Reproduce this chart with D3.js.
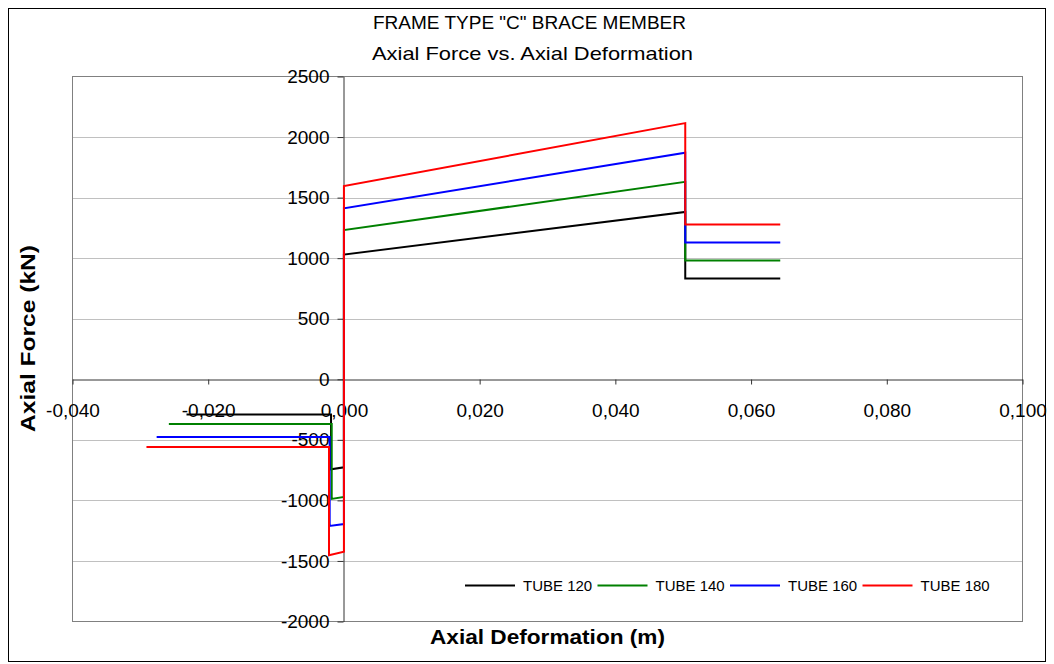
<html>
<head>
<meta charset="utf-8">
<script src="https://d3js.org/d3.v7.min.js"></script>
<title>Frame type C brace member</title>
<style>
  body { margin: 0; background: #fff; }
  text { font-family: "Liberation Sans", Arial, sans-serif; }
</style>
</head>
<body>
<svg id="chart" width="1054" height="664"></svg>
<script>
// series names and values
const seriesNames = ["TUBE 120", "TUBE 140", "TUBE 160", "TUBE 180"];

const tube120Def   = [-0.0232, -0.0019, -0.0019, 0, 0, 0.0503, 0.0503, 0.0643];
const tube120Force = [-290, -290, -743, -727, 1030, 1382, 832, 832];
const tube140Def   = [-0.0258, -0.0018, -0.0018, 0, 0, 0.0503, 0.0503, 0.0643];
const tube140Force = [-369, -369, -988, -972, 1232, 1630, 981, 981];
const tube160Def   = [-0.0276, -0.0021, -0.0021, 0, 0, 0.0503, 0.0503, 0.0643];
const tube160Force = [-476, -476, -1211, -1195, 1412, 1870, 1129, 1129];
const tube180Def   = [-0.0291, -0.0022, -0.0022, 0, 0, 0.0503, 0.0503, 0.0643];
const tube180Force = [-559, -559, -1453, -1424, 1596, 2115, 1278, 1278];

const xTicks = [-0.04, -0.02, 0, 0.02, 0.04, 0.06, 0.08, 0.1];
const yTicks = [-2000, -1500, -1000, -500, 0, 500, 1000, 1500, 2000, 2500];

const colors = ["#000000", "#008000", "#0000ff", "#ff0000"];

const svg = d3.select("#chart");
const plot = { left: 72.5, top: 76.5, right: 1022.5, bottom: 621.5 };

const loc = d3.formatLocale({ decimal: ",", thousands: ".", grouping: [3], currency: ["", ""], minus: "-" });
const fx = loc.format(".3f");
const fy = loc.format("d");

const x = d3.scaleLinear().domain([-0.04, 0.1]).range([plot.left, plot.right]);
const y = d3.scaleLinear().domain([-2000, 2500]).range([plot.bottom, plot.top]);

// outer chart frame
svg.append("rect")
   .attr("x", 8.5).attr("y", 8.5)
   .attr("width", 1037).attr("height", 653)
   .attr("fill", "#fff").attr("stroke", "#000").attr("stroke-width", 1);

// gridlines
svg.append("g")
   .selectAll("line")
   .data(yTicks.filter(d => d !== 0 && d !== 2500 && d !== -2000))
   .join("line")
   .attr("x1", plot.left).attr("x2", plot.right)
   .attr("y1", d => Math.round(y(d)) + 0.5).attr("y2", d => Math.round(y(d)) + 0.5)
   .attr("stroke", "#c0c0c0").attr("stroke-width", 1);

// plot area border
svg.append("rect")
   .attr("x", plot.left).attr("y", plot.top)
   .attr("width", plot.right - plot.left).attr("height", plot.bottom - plot.top)
   .attr("fill", "none").attr("stroke", "#808080").attr("stroke-width", 1);

// x axis through zero force
const xAxis = svg.append("g")
   .attr("transform", "translate(0," + (Math.round(y(0)) + 0.5) + ")")
   .call(d3.axisBottom(x).tickValues(xTicks).tickFormat(fx)
          .tickSizeInner(5).tickSizeOuter(0).tickPadding(19));
xAxis.select(".domain").attr("stroke", "#333");
xAxis.selectAll(".tick line").attr("stroke", "#333");
xAxis.selectAll("text").attr("font-size", 19).attr("fill", "#000")
     .attr("font-family", "Liberation Sans, Arial, sans-serif");

// y axis through zero deformation
const yAxis = svg.append("g")
   .attr("transform", "translate(" + (Math.round(x(0)) - 0.5) + ",0)")
   .call(d3.axisLeft(y).tickValues(yTicks).tickFormat(fy)
          .tickSizeInner(6).tickSizeOuter(0).tickPadding(8));
yAxis.select(".domain").attr("stroke", "#333");
yAxis.selectAll(".tick line").attr("stroke", "#333");
yAxis.selectAll("text").attr("font-size", 19).attr("fill", "#000")
     .attr("font-family", "Liberation Sans, Arial, sans-serif");

// series lines
const seriesData = [
  d3.zip(tube120Def, tube120Force),
  d3.zip(tube140Def, tube140Force),
  d3.zip(tube160Def, tube160Force),
  d3.zip(tube180Def, tube180Force)
];
const line = d3.line().x(d => x(d[0])).y(d => y(d[1]));

svg.append("g")
   .selectAll("path")
   .data(seriesData)
   .join("path")
   .attr("d", line)
   .attr("fill", "none")
   .attr("stroke", (d, i) => colors[i])
   .attr("stroke-width", 2)
   .attr("stroke-linejoin", "miter");

// titles (stretched like the excel export)
svg.append("text")
   .attr("x", 373).attr("y", 29)
   .attr("font-size", 19)
   .attr("textLength", 313).attr("lengthAdjust", "spacingAndGlyphs")
   .text('FRAME TYPE "C" BRACE MEMBER');
svg.append("text")
   .attr("x", 372).attr("y", 60)
   .attr("font-size", 19)
   .attr("textLength", 321).attr("lengthAdjust", "spacingAndGlyphs")
   .text("Axial Force vs. Axial Deformation");

svg.append("text")
   .attr("x", 430).attr("y", 644)
   .attr("font-size", 20).attr("font-weight", "bold")
   .attr("textLength", 235).attr("lengthAdjust", "spacingAndGlyphs")
   .text("Axial Deformation (m)");
svg.append("text")
   .attr("transform", "translate(35,432) rotate(-90)")
   .attr("font-size", 20).attr("font-weight", "bold")
   .attr("textLength", 187).attr("lengthAdjust", "spacingAndGlyphs")
   .text("Axial Force (kN)");

// legend
const legend = svg.append("g").attr("transform", "translate(465,585)");
const item = legend.selectAll("g")
   .data(seriesNames)
   .join("g")
   .attr("transform", (d, i) => "translate(" + (i * 132.5) + ",0)");
item.append("line")
   .attr("x1", 0).attr("x2", 50).attr("y1", 0.5).attr("y2", 0.5)
   .attr("stroke", (d, i) => colors[i]).attr("stroke-width", 2);
item.append("text")
   .attr("x", 58).attr("y", 6)
   .attr("font-size", 15)
   .text(d => d);
</script>
</body>
</html>
